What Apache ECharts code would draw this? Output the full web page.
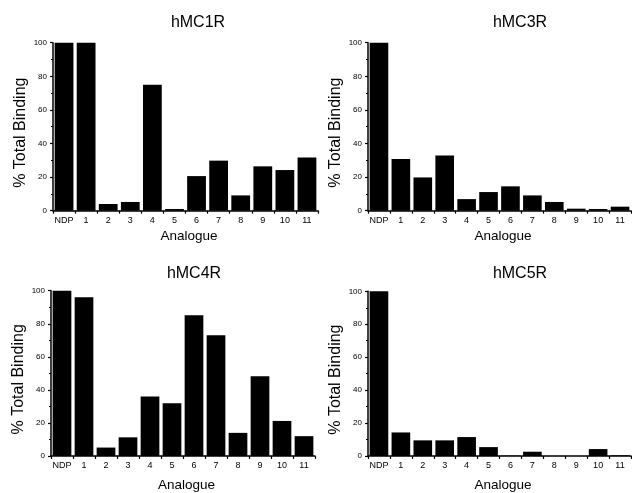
<!DOCTYPE html>
<html>
<head>
<meta charset="utf-8">
<script src="https://cdn.jsdelivr.net/npm/echarts@6/dist/echarts.min.js"></script>
<style>
html,body{margin:0;padding:0;background:#fff;}
#c{width:632px;height:493px;}
</style>
</head>
<body>
<div id="c"></div>
<script>
var categories = ['NDP','1','2','3','4','5','6','7','8','9','10','11'];
var titles = ['hMC1R','hMC3R','hMC4R','hMC5R'];
var mc1r = [100,100,4,5.2,75,1,20.6,29.8,9.1,26.4,24.2,31.7];
var mc3r = [100,30.8,19.8,32.9,6.9,11.1,14.5,9.1,5.2,1.2,1,2.4];
var mc4r = [100,96,5.1,11.3,36,31.9,85.1,73,14,48.3,21.2,12];
var mc5r = [100,14.3,9.5,9.5,11.5,5.4,0.2,2.6,0,0,4.2,0.4];
var yName = '% Total Binding';
var xName = 'Analogue';

var seriesData = [mc1r, mc3r, mc4r, mc5r];
var grids = [
  {left:53, top:42.7, width:265, height:168},
  {left:368, top:42.7, width:263, height:168},
  {left:51, top:290.7, width:264, height:168.3},
  {left:368, top:291.3, width:263, height:168}
];
var titleX = [193, 515, 189, 515];
var titleY = [10, 10, 261, 261];
var xNameGaps = [19, 19, 22, 22];
var font = 'Arial, "Liberation Sans", Helvetica, sans-serif';
var axisLineStyle = {color:'#000', width:1.5};

var option = {
  animation:false,
  backgroundColor:'#fff',
  title: titles.map(function(t,i){
    return {text:t, left:titleX[i], top:titleY[i], textAlign:'center',
      textStyle:{fontFamily:font, fontSize:16, fontWeight:'normal', color:'#000'}};
  }),
  grid: grids,
  xAxis: grids.map(function(g,i){
    return {type:'category', gridIndex:i, data:categories,
      name:xName, nameLocation:'middle', nameGap:xNameGaps[i],
      nameTextStyle:{fontFamily:font, fontSize:13.5, color:'#000', padding:[0,0,0,7]},
      axisLine:{lineStyle:axisLineStyle},
      axisTick:{show:true, interval:0, length:3, lineStyle:{color:'#000', width:1.2}},
      axisLabel:{interval:0, fontFamily:font, fontSize:9, color:'#000', margin:5}};
  }),
  yAxis: grids.map(function(g,i){
    return {type:'value', gridIndex:i, min:0, max:100, interval:20,
      name:yName, nameLocation:'middle', nameGap:24,
      nameTextStyle:{fontFamily:font, fontSize:16, color:'#000', padding:[0,12,0,0]},
      axisLine:{show:true, lineStyle:axisLineStyle},
      axisTick:{show:true, length:3, lineStyle:{color:'#000', width:1.2}},
      minorTick:{show:true, splitNumber:2, length:2, lineStyle:{color:'#000', width:1}},
      splitLine:{show:false},
      axisLabel:{fontFamily:font, fontSize:8, color:'#000', margin:6}};
  }),
  series: seriesData.map(function(d,i){
    return {type:'bar', xAxisIndex:i, yAxisIndex:i, data:d,
      barCategoryGap:'15%', itemStyle:{color:'#000'}};
  })
};
var chart = echarts.init(document.getElementById('c'), null, {renderer:'canvas'});
chart.setOption(option);
</script>
</body>
</html>
